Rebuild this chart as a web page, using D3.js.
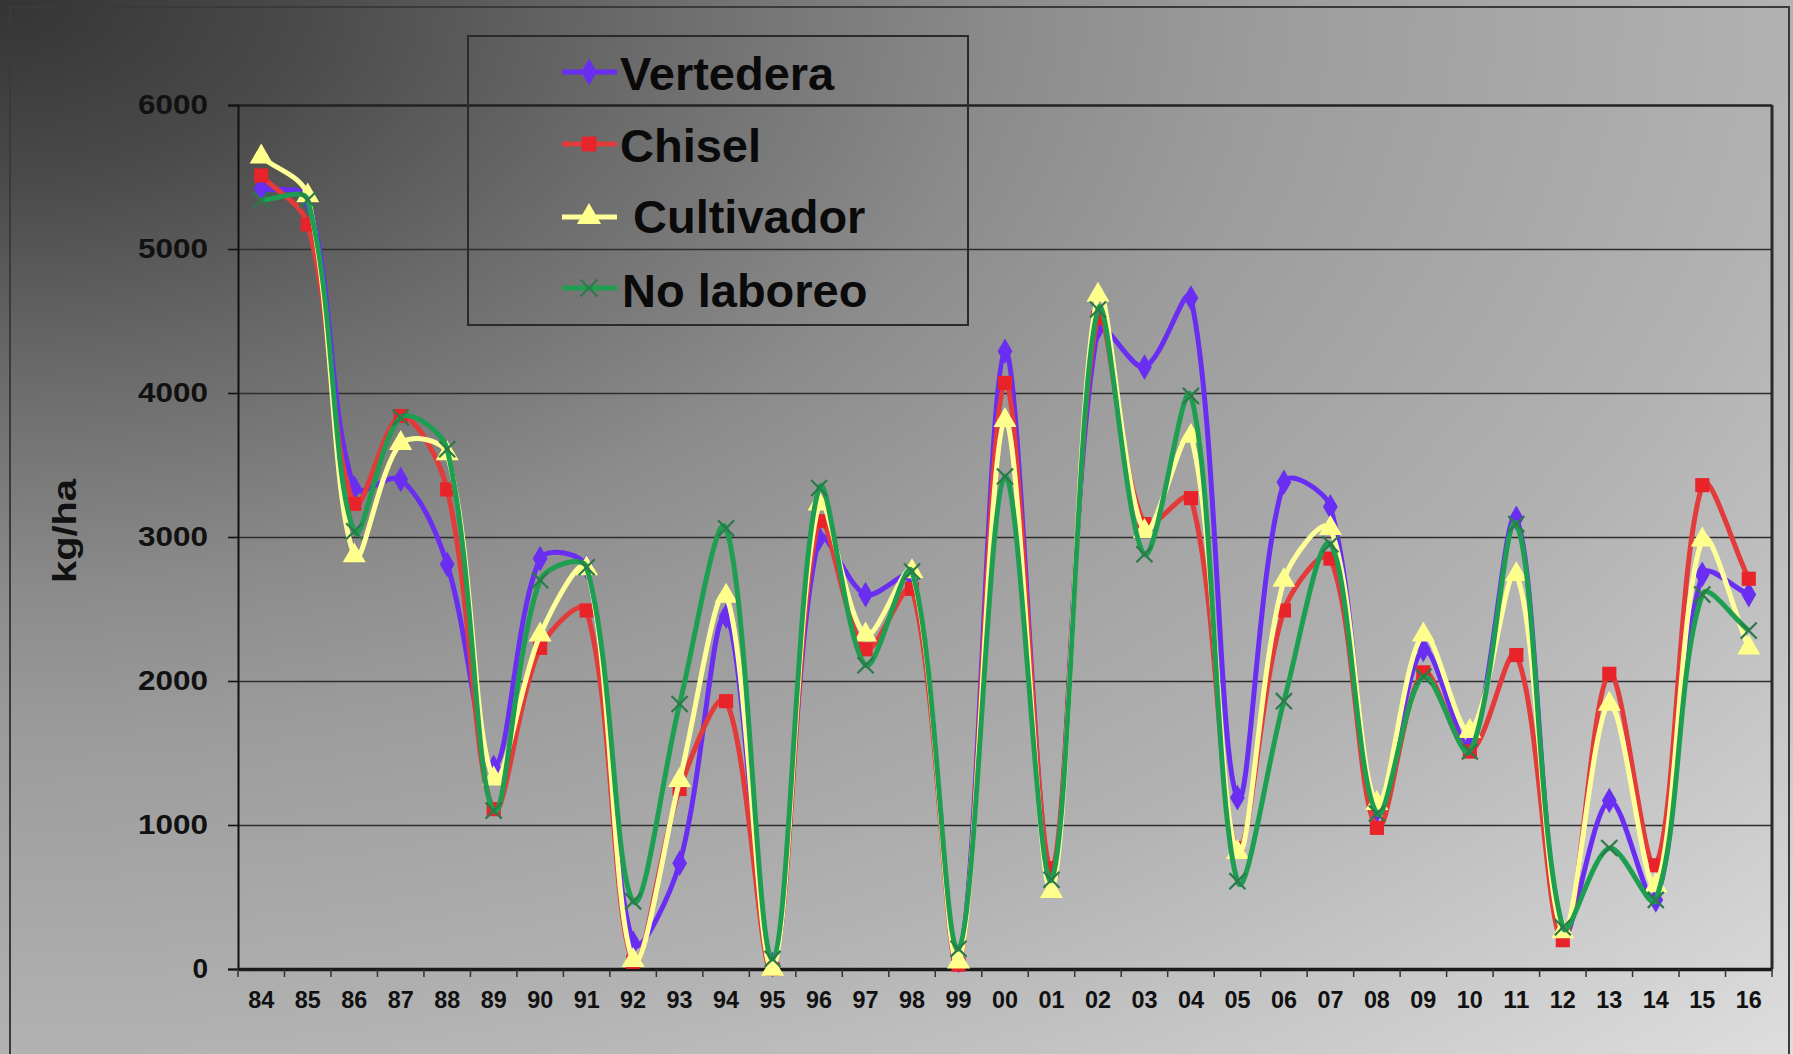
<!DOCTYPE html>
<html>
<head>
<meta charset="utf-8">
<script src="https://cdn.jsdelivr.net/npm/d3@7"></script>
<style>
  html, body { margin: 0; padding: 0; background: #888; }
  svg { display: block; }
  text { font-family: "Liberation Sans", Arial, sans-serif; font-weight: bold; }
</style>
</head>
<body>
<svg id="chart" width="1793" height="1054"></svg>
<script>
const years = ["84","85","86","87","88","89","90","91","92","93","94","95","96","97","98","99",
               "00","01","02","03","04","05","06","07","08","09","10","11","12","13","14","15","16"];
const vertedera = [5420,5350,3340,3400,2810,1400,2850,2790,180,735,2450,30,2990,2600,2720,60,
                   4290,650,4450,4180,4660,1190,3380,3210,1100,2220,1550,3130,240,1170,480,2740,2600];
const chisel = [5510,5170,3230,3840,3330,1110,2230,2490,50,1250,1860,0,3110,2220,2640,30,
                4070,700,4520,3090,3270,840,2490,2850,980,2060,1510,2180,200,2050,720,3360,2710];
const cultivador = [5640,5370,2870,3650,3580,1320,2320,2780,60,1310,2590,0,3230,2320,2760,50,
                    3810,540,4680,3040,3700,810,2700,3060,1150,2320,1650,2740,260,1840,580,2980,2230];
const noLaboreo = [5340,5340,3040,3830,3610,1100,2700,2790,470,1840,3060,70,3340,2110,2760,140,
                   3420,620,4580,2880,3980,610,1860,2950,1080,2030,1510,3090,290,840,480,2600,2350];
const seriesNames = ["Vertedera","Chisel","Cultivador","No laboreo"];
const yTicks = [0,1000,2000,3000,4000,5000,6000];
const yLabel = "kg/ha";

const W = 1793, H = 1054;
const M = {left: 238, right: 1772, top: 105, bottom: 969};
const svg = d3.select("#chart");

// Excel-like smoothed line: Bezier with chord-weighted Catmull-Rom tangents
function ExcelSmooth(context) { this._context = context; }
ExcelSmooth.prototype = {
  areaStart() { this._line = 0; },
  areaEnd() { this._line = NaN; },
  lineStart() { this._pts = []; },
  point(px, py) { this._pts.push([+px, +py]); },
  lineEnd() {
    const p = this._pts, n = p.length, c = this._context;
    if (!n) return;
    const dist = (a, b) => Math.hypot(b[0] - a[0], b[1] - a[1]);
    c.moveTo(p[0][0], p[0][1]);
    for (let i = 0; i < n - 1; i++) {
      const p0 = p[i > 0 ? i - 1 : i], p1 = p[i], p2 = p[i + 1], p3 = p[i + 2 < n ? i + 2 : i + 1];
      const d01 = dist(p0, p1), d12 = dist(p1, p2), d23 = dist(p2, p3);
      const f1 = (d01 + d12) > 0 ? d12 / (d01 + d12) / 3 : 0;
      const f2 = (d12 + d23) > 0 ? d12 / (d12 + d23) / 3 : 0;
      const c1 = [p1[0] + (p2[0] - p0[0]) * f1, p1[1] + (p2[1] - p0[1]) * f1];
      const c2 = [p2[0] - (p3[0] - p1[0]) * f2, p2[1] - (p3[1] - p1[1]) * f2];
      c.bezierCurveTo(c1[0], c1[1], c2[0], c2[1], p2[0], p2[1]);
    }
  }
};
const excelCurve = context => new ExcelSmooth(context);

// background gradient (dark top-left corner fading to light bottom-right)
const defs = svg.append("defs");
const grad = defs.append("radialGradient").attr("id","bg")
  .attr("gradientUnits","userSpaceOnUse").attr("cx",0).attr("cy",0).attr("fx",0).attr("fy",0)
  .attr("r", W*1.414).attr("gradientTransform", `scale(1,${H/W})`);
[[0,"#343434"],[0.12,"#4a4a4a"],[0.25,"#6a6a6a"],[0.4,"#8c8c8c"],[0.5,"#9c9c9c"],[0.707,"#b2b2b2"],[1,"#dedede"]]
  .forEach(([o,c]) => grad.append("stop").attr("offset",o).attr("stop-color",c));
svg.append("rect").attr("width",W).attr("height",H).attr("fill","url(#bg)");

// outer frame
svg.append("path").attr("d",`M10,${H+5}V7H1789V${H+5}`).attr("fill","none")
  .attr("stroke","#3a3a3a").attr("stroke-width",2);

const x = d3.scaleBand().domain(years).range([M.left, M.right]).padding(0);
const xc = d => x(d) + x.bandwidth()/2;
const y = d3.scaleLinear().domain([0,6000]).range([M.bottom, M.top]);

// gridlines
const grid = svg.append("g").attr("transform",`translate(${M.left},0)`)
  .call(d3.axisLeft(y).tickValues(yTicks.slice(1)).tickSize(-(M.right-M.left)).tickFormat(""));
grid.select(".domain").remove();
grid.selectAll("line").attr("stroke","#2e2e2e").attr("stroke-width",1.6);
grid.selectAll("line").filter(d => d === 6000).attr("stroke","#222").attr("stroke-width",2.5);

// right border of plot
svg.append("line").attr("x1",M.right).attr("x2",M.right).attr("y1",M.top).attr("y2",M.bottom)
  .attr("stroke","#2a2a2a").attr("stroke-width",3);

// y axis
const yAxis = svg.append("g").attr("transform",`translate(${M.left},0)`)
  .call(d3.axisLeft(y).tickValues(yTicks).tickSize(10).tickPadding(20).tickFormat(d3.format("d")));
yAxis.select(".domain").attr("stroke","#111").attr("stroke-width",2);
yAxis.selectAll(".tick line").attr("stroke","#111").attr("stroke-width",1.6);
yAxis.selectAll("text").attr("fill","#111").attr("font-size",28)
  .attr("textLength",70).attr("lengthAdjust","spacingAndGlyphs");
yAxis.selectAll(".tick").filter(d => d === 0).select("text").attr("textLength",null);

// x axis
const xAxis = svg.append("g").attr("transform",`translate(0,${M.bottom})`)
  .call(d3.axisBottom(x).tickSize(0).tickPadding(22));
xAxis.select(".domain").attr("stroke","#1a1a1a").attr("stroke-width",3.5);
xAxis.selectAll("text").attr("fill","#111").attr("font-size",24)
  .attr("textLength",26).attr("lengthAdjust","spacingAndGlyphs");
svg.append("g").selectAll("line").data(years.concat(["end"])).join("line")
  .attr("x1",(d,i) => M.left + i*x.bandwidth()).attr("x2",(d,i) => M.left + i*x.bandwidth())
  .attr("y1",M.bottom).attr("y2",M.bottom+8).attr("stroke","#333").attr("stroke-width",1.5);

// y label
svg.append("text").attr("transform","translate(76,531) rotate(-90)")
  .attr("text-anchor","middle").attr("font-size",34).attr("fill","#111")
  .attr("textLength",104).attr("lengthAdjust","spacingAndGlyphs").text(yLabel);

// series
const series = [
  {name: seriesNames[0], values: vertedera, color: "#6a2ef2", symbol: d3.symbolDiamond, size: 190, fill: "#6a2ef2", stroke: "none"},
  {name: seriesNames[1], values: chisel, color: "#e33a3a", symbol: d3.symbolSquare, size: 200, fill: "#e8232a", stroke: "none"},
  {name: seriesNames[2], values: cultivador, color: "#ffff99", symbol: d3.symbolTriangle, size: 230, fill: "#ffff8c", stroke: "none"},
  {name: seriesNames[3], values: noLaboreo, color: "#1e9e50", symbol: d3.symbolTimes, size: 170, fill: "none", stroke: "#2c7a4a"}
];
const line = d3.line().x((d,i) => xc(years[i])).y(d => y(d)).curve(excelCurve);
series.forEach(s => {
  const g = svg.append("g");
  g.append("path").attr("d", line(s.values)).attr("fill","none")
    .attr("stroke", s.color).attr("stroke-width",5).attr("stroke-linejoin","round");
  g.selectAll("path.m").data(s.values).join("path").attr("class","m")
    .attr("transform",(d,i) => `translate(${xc(years[i])},${y(d)})`)
    .attr("d", d3.symbol().type(s.symbol).size(s.size))
    .attr("fill", s.fill).attr("stroke", s.stroke).attr("stroke-width", s.stroke === "none" ? 0 : 2.2);
});

// legend
const lg = svg.append("g");
lg.append("rect").attr("x",468).attr("y",36).attr("width",500).attr("height",289)
  .attr("fill","none").attr("stroke","#2a2a2a").attr("stroke-width",2);
const legY = [72,144,217,288];
const legTextX = [620,620,633,622];
const legBase = [90,162,233,307];
series.forEach((s,i) => {
  lg.append("line").attr("x1",562).attr("x2",617).attr("y1",legY[i]).attr("y2",legY[i])
    .attr("stroke", s.color).attr("stroke-width",5);
  lg.append("path").attr("transform",`translate(589,${legY[i]})`)
    .attr("d", d3.symbol().type(s.symbol).size(s.size*1.1))
    .attr("fill", s.fill).attr("stroke", s.stroke).attr("stroke-width", s.stroke === "none" ? 0 : 2.2);
  lg.append("text").attr("x",legTextX[i]).attr("y",legBase[i]).attr("font-size",47)
    .attr("fill","#0a0a0a").text(s.name);
});
</script>
</body>
</html>
